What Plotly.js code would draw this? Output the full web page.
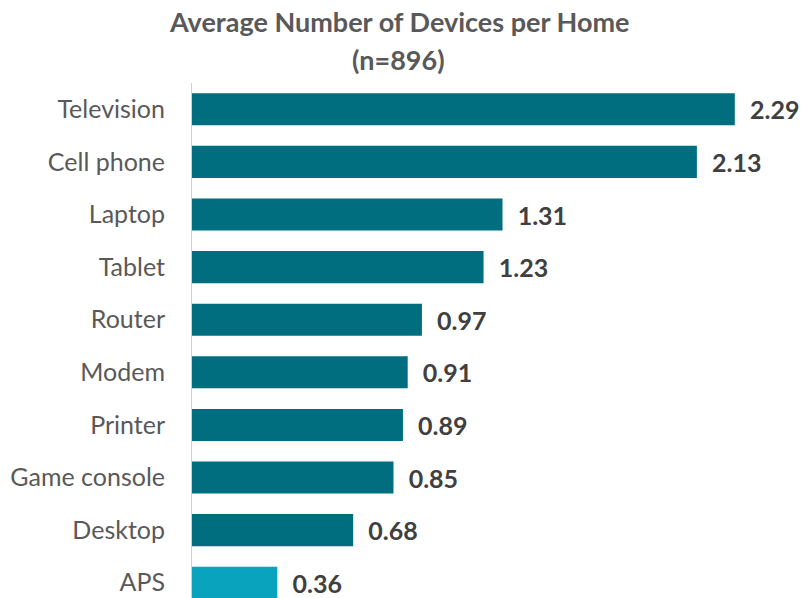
<!DOCTYPE html>
<html>
<head>
<meta charset="utf-8">
<script src="https://cdn.plot.ly/plotly-3.0.1.min.js"></script>
<style>html,body{margin:0;padding:0;background:#fff;}#chart{width:809px;height:598px;}</style>
</head>
<body>
<div id="chart"></div>
<script>
const categories = ["Television","Cell phone","Laptop","Tablet","Router","Modem","Printer","Game console","Desktop","APS"];
const values = [2.29, 2.13, 1.31, 1.23, 0.97, 0.91, 0.89, 0.85, 0.68, 0.36];
const barColors = ["#006E7F","#006E7F","#006E7F","#006E7F","#006E7F","#006E7F","#006E7F","#006E7F","#006E7F","#0AA3BD"];
const titleLines = ["Average Number of Devices per Home", "(n=896)"];

const FONT = "Lato, 'Open Sans', sans-serif";

const trace = {
  type: "bar",
  orientation: "h",
  y: categories,
  x: values,
  marker: {color: barColors},
  text: values.map(v => "\u00a0\u00a0" + v.toFixed(2)),
  textposition: "outside",
  cliponaxis: false,
  textfont: {family: FONT, size: 25, color: "#404040", weight: "bold"},
  hoverinfo: "none"
};

const layout = {
  width: 809, height: 598,
  margin: {l: 192, r: 0, t: 83, b: 0},
  paper_bgcolor: "#fff", plot_bgcolor: "#fff",
  showlegend: false,
  bargap: 0.39,
  annotations: [
    {text: "<b>" + titleLines[0] + "</b>", xref: "paper", yref: "paper", x: (398.5 - 192) / 617, y: (598 - 22) / 515,
     xanchor: "center", yanchor: "middle", showarrow: false,
     font: {family: FONT, size: 27, color: "#595959"}},
    {text: "<b>" + titleLines[1] + "</b>", xref: "paper", yref: "paper", x: (398.5 - 192) / 617, y: (598 - 60) / 515,
     xanchor: "center", yanchor: "middle", showarrow: false,
     font: {family: FONT, size: 27, color: "#595959"}}
  ],
  xaxis: {range: [0, 2.603], visible: false, fixedrange: true},
  yaxis: {
    type: "category",
    range: [9.29, -0.5],
    showline: true, linecolor: "#D0D0D0", linewidth: 1,
    showgrid: false, zeroline: false, ticks: "",
    ticklabelstandoff: 21,
    tickfont: {family: FONT, size: 25, color: "#595959"}
  }
};

Plotly.newPlot("chart", [trace], layout, {displayModeBar: false, staticPlot: true});
</script>
</body>
</html>
